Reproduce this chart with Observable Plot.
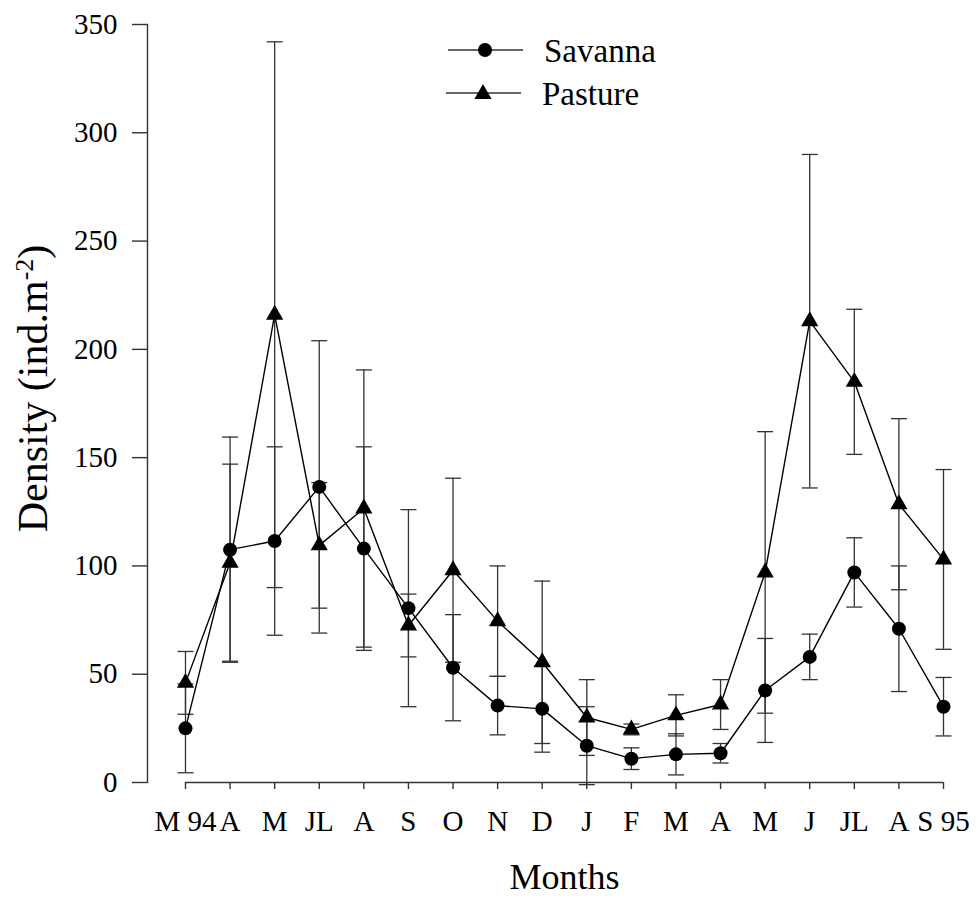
<!DOCTYPE html>
<html><head><meta charset="utf-8">
<script src="https://cdn.jsdelivr.net/npm/d3@7"></script>
<script src="https://cdn.jsdelivr.net/npm/@observablehq/plot@0.6"></script>
<style>
body{margin:0;background:#fff;font-family:"Liberation Serif",serif}
#wrap{position:relative;width:976px;height:900px}
#legend{position:absolute;left:0;top:0}
svg text{font-family:"Liberation Serif",serif}
</style></head><body><div id="wrap"></div>
<script>
const monthLabels = ["M 94","A","M","JL","A","S","O","N","D","J","F","M","A","M","J","JL","A","S 95"];
const savannaMean = [25, 107.5, 111.5, 136.5, 108, 80.5, 53, 35.5, 34, 17, 11, 13, 13.5, 42.5, 58, 97, 71, 35];
const savannaSE   = [20.5, 52, 43.5, 67.5, 47, 45.5, 24.5, 13.5, 20, 18, 5, 9.5, 4.5, 24, 10.5, 16, 29, 13.5];
const pastureMean = [46, 101.5, 216, 109.5, 126.5, 72.5, 98, 74.5, 55.5, 30, 24.5, 31, 36, 97, 213, 185, 128.5, 103];
const pastureSE   = [14.5, 45.5, 126, 29, 64, 14.5, 42.5, 25.5, 37.5, 17.5, 2.5, 9.5, 11.5, 65, 77, 33.5, 39.5, 41.5];
const yTicks = [0, 50, 100, 150, 200, 250, 300, 350];
const seriesNames = ["Savanna", "Pasture"];
const xTitle = "Months";
const yTitle = "Density (ind.m-2)";

const rows = [];
monthLabels.forEach((m, i) => {
  rows.push({i, series: seriesNames[0], mean: savannaMean[i], se: savannaSE[i]});
  rows.push({i, series: seriesNames[1], mean: pastureMean[i], se: pastureSE[i]});
});
const sav = rows.filter(d => d.series === seriesNames[0]);
const pas = rows.filter(d => d.series === seriesNames[1]);

const capSymbol = {draw(ctx, size) { const h = Math.sqrt(size / Math.PI); ctx.moveTo(-h, 0); ctx.lineTo(h, 0); }};
const ink = "#000";
const barInk = "#333";
const serif = "Liberation Serif";

const plot = Plot.plot({
  width: 976,
  height: 900,
  marginTop: 24,
  marginBottom: 118,
  marginLeft: 147,
  marginRight: 33,
  style: {fontFamily: serif, fontSize: "29px", color: "#000", background: "#fff"},
  x: {domain: [-0.852, monthLabels.length - 1]},
  y: {domain: [0, 350]},
  marks: [
    Plot.frame({anchor: "left", stroke: barInk, strokeWidth: 1.4}),
    Plot.ruleY([0], {x1: 0, x2: monthLabels.length - 1, stroke: barInk, strokeWidth: 1.4}),
    Plot.axisY({ticks: yTicks, tickSize: 15, tickPadding: 15, label: null, fontSize: 29, fontFamily: serif, stroke: barInk, strokeWidth: 1.4}),
    Plot.axisX({ticks: d3.range(monthLabels.length), tickFormat: i => monthLabels[i], tickSize: 7, tickPadding: 21, label: null, fontSize: 29, fontFamily: serif, stroke: barInk, strokeWidth: 1.4}),
    Plot.ruleX(rows, {x: "i", y1: d => d.mean - d.se, y2: d => d.mean + d.se, stroke: barInk, strokeWidth: 1.3}),
    Plot.dot(rows, {x: "i", y: d => d.mean + d.se, symbol: capSymbol, r: 8, stroke: barInk, strokeWidth: 1.3, fill: "none"}),
    Plot.dot(rows, {x: "i", y: d => d.mean - d.se, symbol: capSymbol, r: 8, stroke: barInk, strokeWidth: 1.3, fill: "none"}),
    Plot.line(sav, {x: "i", y: "mean", stroke: ink, strokeWidth: 1.4}),
    Plot.line(pas, {x: "i", y: "mean", stroke: ink, strokeWidth: 1.4}),
    Plot.dot(sav, {x: "i", y: "mean", symbol: "circle", r: 7, fill: ink, stroke: "none"}),
    Plot.dot(pas, {x: "i", y: "mean", symbol: "triangle", r: 6.4, fill: ink, stroke: "none"}),
    Plot.text([xTitle], {frameAnchor: "bottom", text: d => d, textAnchor: "middle", lineAnchor: "middle", dx: 19, dy: 94.5, fontSize: 36, fontFamily: serif, fill: ink}),
    Plot.text([yTitle], {frameAnchor: "left", text: d => d, textAnchor: "middle", lineAnchor: "middle", rotate: -90, dx: -113.5, dy: -15, fontSize: 42, fontFamily: serif, fill: ink})
  ]
});
const wrap = document.getElementById("wrap");
wrap.appendChild(plot);

// superscript in y title
d3.select(plot).selectAll("text").filter(function() { return this.textContent === yTitle; })
  .each(function() {
    const t = d3.select(this);
    t.text(null);
    t.append("tspan").text("Density (ind.m");
    t.append("tspan").attr("baseline-shift", "super").attr("font-size", "26px").text("-2");
    t.append("tspan").text(")");
  });

// legend
const lg = d3.select(wrap).append("svg").attr("id", "legend").attr("width", 976).attr("height", 120);
const legendItems = [
  {name: seriesNames[0], sym: d3.symbolCircle, size: Math.PI * 49, lx: 448, ly: 50},
  {name: seriesNames[1], sym: d3.symbolTriangle, size: Math.PI * 6.4 * 6.4, lx: 446, ly: 93}
];
legendItems.forEach(it => {
  lg.append("line").attr("x1", it.lx).attr("x2", it.lx + 75).attr("y1", it.ly).attr("y2", it.ly).attr("stroke", barInk).attr("stroke-width", 1.4);
  lg.append("path").attr("d", d3.symbol(it.sym, it.size)()).attr("transform", `translate(${it.lx + 37},${it.ly + (it.sym === d3.symbolTriangle ? 1 : 0)})`).attr("fill", ink);
  lg.append("text").attr("x", it.lx + 96).attr("y", it.ly + 12).attr("font-size", 33).attr("font-family", serif).attr("fill", ink).text(it.name);
});
</script></body></html>
